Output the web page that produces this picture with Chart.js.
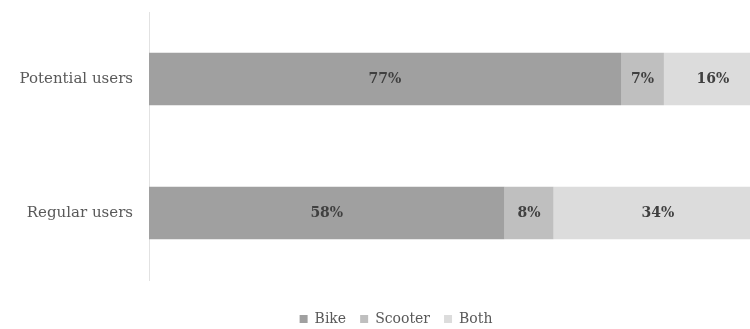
<!DOCTYPE html>
<html>
<head>
<meta charset="utf-8">
<script src="https://cdn.jsdelivr.net/npm/chart.js@4/dist/chart.umd.min.js"></script>
<style>
  html, body { margin: 0; padding: 0; background: #fff; overflow: hidden; }
  #wrap { width: 762px; height: 329px; }
</style>
</head>
<body>
<div id="wrap"><canvas id="usersChart"></canvas></div>
<script>
const groups = ["Potential users", "Regular users"];
const bike = [77, 58];
const scooter = [7, 8];
const both = [16, 34];

const serif = "'DejaVu Serif', 'Liberation Serif', serif";

// draws the percent text in the middle of each bar piece
const barLabels = {
    id: "barLabels",
    afterDatasetsDraw(chart) {
        const ctx = chart.ctx;
        ctx.save();
        ctx.font = "bold 14px " + serif;
        ctx.fillStyle = "#404040";
        ctx.textAlign = "center";
        ctx.textBaseline = "middle";
        chart.data.datasets.forEach((ds, i) => {
            chart.getDatasetMeta(i).data.forEach((bar, j) => {
                const x = (bar.x + bar.base) / 2;
                ctx.fillText(ds.data[j] + "%", x, bar.y);
            });
        });
        ctx.restore();
    }
};

// nudge the legend a bit to the right, like the original
const legendShift = {
    id: "legendShift",
    afterLayout(chart) {
        chart.legend.left += 15;
        chart.legend.right += 15;
    }
};

new Chart(document.getElementById("usersChart"), {
    type: "bar",
    data: {
        labels: groups,
        datasets: [
            { label: "Bike", data: bike, backgroundColor: "#a0a0a0" },
            { label: "Scooter", data: scooter, backgroundColor: "#bfbfbf" },
            { label: "Both", data: both, backgroundColor: "#dcdcdc" }
        ]
    },
    options: {
        indexAxis: "y",
        responsive: true,
        maintainAspectRatio: false,
        animation: false,
        layout: { padding: { top: 12, left: 0, right: 0, bottom: -7 } },
        datasets: { bar: { categoryPercentage: 1, barPercentage: 0.39 } },
        scales: {
            x: {
                stacked: true, min: 0, max: 100,
                grid: { display: false },
                border: { display: false },
                ticks: { display: false },
                afterFit(scale) { scale.height = 18; }
            },
            y: {
                stacked: true,
                grid: { display: false },
                border: { color: "#e2e2e2", width: 1 },
                ticks: { color: "#595959", font: { family: serif, size: 15 }, padding: 8 },
                afterFit(scale) {
                    scale.width = 149;
                    scale.paddingTop = 0;
                    scale.paddingBottom = 0;
                }
            }
        },
        plugins: {
            legend: {
                position: "bottom",
                labels: {
                    color: "#595959",
                    font: { family: serif, size: 14 },
                    boxWidth: 8,
                    boxHeight: 8,
                    padding: 14
                }
            },
            tooltip: { enabled: false }
        }
    },
    plugins: [barLabels, legendShift]
});
</script>
</body>
</html>
